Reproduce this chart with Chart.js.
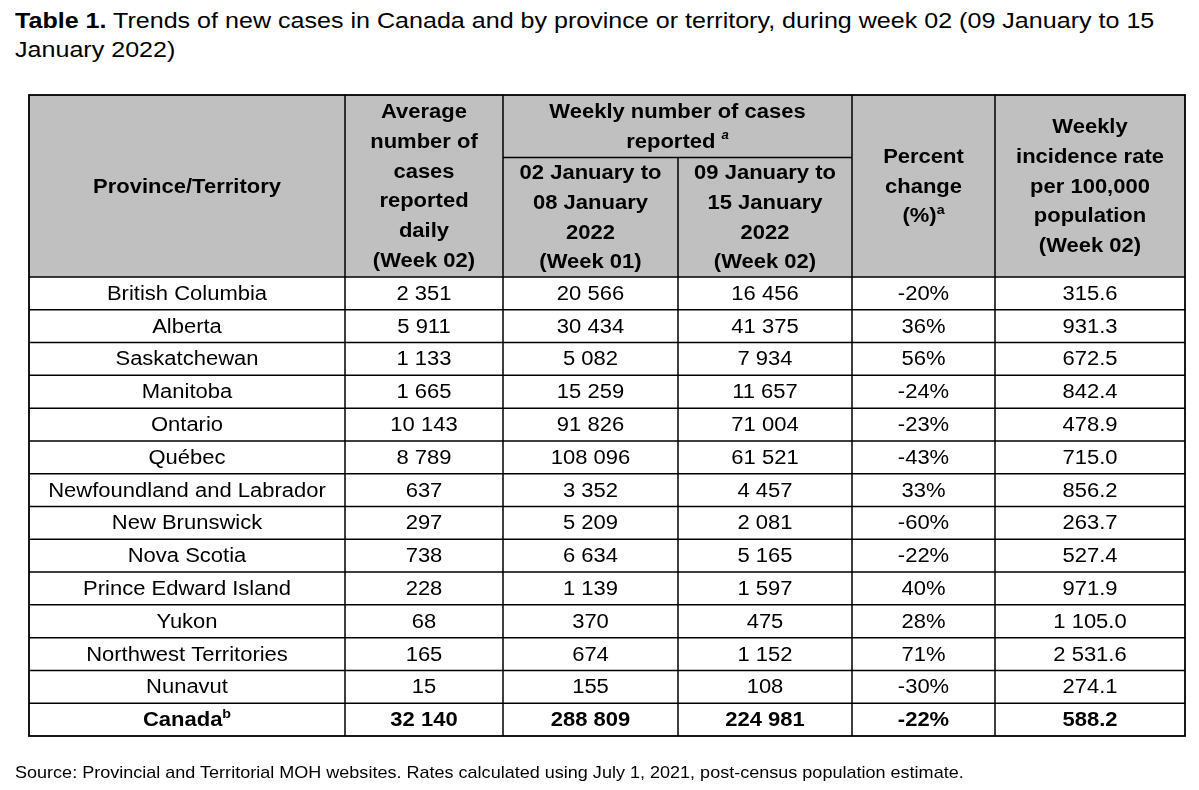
<!DOCTYPE html>
<html>
<head>
<meta charset="utf-8">
<script src="https://cdn.jsdelivr.net/npm/chart.js@4.4.1/dist/chart.umd.min.js"></script>
<style>
  body { margin: 0; background: #fff; width: 1199px; height: 790px; position: relative; overflow: hidden;
         font-family: "Liberation Sans", Arial, Helvetica, sans-serif; color: #000; }
  #title { position: absolute; left: 15px; top: 6px; font-size: 22.8px; line-height: 29px;
           transform: scaleX(1.1); transform-origin: 0 0; white-space: nowrap; }
  #source { position: absolute; left: 15px; top: 762px; font-size: 16.4px; line-height: 20px;
            transform: scaleX(1.1); transform-origin: 0 0; white-space: nowrap; }
  #tableChart { position: absolute; left: 0; top: 0; }
</style>
</head>
<body>
<div id="title"><b>Table 1.</b> Trends of new cases in Canada and by province or territory, during week 02 (09 January to 15<br>January 2022)</div>
<canvas id="tableChart" width="1199" height="790"></canvas>
<div id="source">Source: Provincial and Territorial MOH websites. Rates calculated using July 1, 2021, post-census population estimate.</div>

<script>
// ----------------------
// DATA
// ----------------------
const provinces = [
  "British Columbia", "Alberta", "Saskatchewan", "Manitoba", "Ontario", "Québec",
  "Newfoundland and Labrador", "New Brunswick", "Nova Scotia", "Prince Edward Island",
  "Yukon", "Northwest Territories", "Nunavut", "Canada"
];
const avgDaily = [2351, 5911, 1133, 1665, 10143, 8789, 637, 297, 738, 228, 68, 165, 15, 32140];
const casesWeek01 = [20566, 30434, 5082, 15259, 91826, 108096, 3352, 5209, 6634, 1139, 370, 674, 155, 288809];
const casesWeek02 = [16456, 41375, 7934, 11657, 71004, 61521, 4457, 2081, 5165, 1597, 475, 1152, 108, 224981];
const pctChange = [-20, 36, 56, -24, -23, -43, 33, -60, -22, 40, 28, 71, -30, -22];
const incidenceRate = [315.6, 931.3, 672.5, 842.4, 478.9, 715.0, 856.2, 263.7, 527.4, 971.9, 1105.0, 2531.6, 274.1, 588.2];

// header text, one array of lines per column
const headerCols = [
  ["Province/Territory"],
  ["Average", "number of", "cases", "reported", "daily", "(Week 02)"],
  ["02 January to", "08 January", "2022", "(Week 01)"],
  ["09 January to", "15 January", "2022", "(Week 02)"],
  ["Percent", "change", "(%)"],
  ["Weekly", "incidence rate", "per 100,000", "population", "(Week 02)"]
];
const groupHeader = ["Weekly number of cases", "reported"];

// ----------------------
// LAYOUT
// ----------------------
const colEdges = [0, 316, 474, 649, 823, 966, 1156]; // x-scale units, from left border
const headerTop = 95;
const subHeaderLine = 157.5;
const lineH = 29.7;
const SX = 1.1;
const FONT = '"Liberation Sans", Arial, sans-serif';
const headerBg = "#c0c0c0";

// ----------------------
// UTILITIES
// ----------------------
function groupThousands(str) {
  const [i, d] = str.split(".");
  const g = i.replace(/\B(?=(\d{3})+(?!\d))/g, " ");
  return d !== undefined ? g + "." + d : g;
}

// parts: [{s, font, dy}] drawn as one centred run
function drawRun(ctx, parts, cx, y) {
  let total = 0;
  parts.forEach(p => { ctx.font = p.font; p.w = ctx.measureText(p.s).width; total += p.w; });
  let x = cx - (total * SX) / 2;
  ctx.textAlign = "left";
  ctx.textBaseline = "middle";
  parts.forEach(p => {
    ctx.save();
    ctx.font = p.font;
    ctx.translate(x, y + (p.dy || 0));
    ctx.scale(SX, 1);
    ctx.fillText(p.s, 0, 0);
    ctx.restore();
    x += p.w * SX;
  });
}

function drawText(ctx, s, cx, y, font) {
  drawRun(ctx, [{ s, font }], cx, y);
}

// ----------------------
// TABLE PLUGIN
// ----------------------
const tablePlugin = {
  id: "tableCells",
  afterDraw(chart) {
    const ctx = chart.ctx;
    const x = chart.scales.x;
    const y = chart.scales.y;
    const area = chart.chartArea;
    const px = colEdges.map(v => x.getPixelForValue(v));
    const colMid = i => (px[i] + px[i + 1]) / 2;
    const n = provinces.length;

    const bold = "bold 20px " + FONT;
    const reg = "20px " + FONT;
    const supB = "bold 13px " + FONT;
    const supI = "italic bold 12px " + FONT;

    ctx.save();
    // header background
    ctx.fillStyle = headerBg;
    ctx.fillRect(px[0], headerTop, px[6] - px[0], area.top - headerTop);

    ctx.fillStyle = "#000";
    // header texts
    headerCols.forEach((lines, c) => {
      const top = (c === 2 || c === 3) ? subHeaderLine : headerTop;
      const mid = (top + area.top) / 2 + 1;
      lines.forEach((ln, k) => {
        const yy = mid + (k - (lines.length - 1) / 2) * lineH;
        if (c === 4 && k === 2) {
          drawRun(ctx, [{ s: ln, font: bold }, { s: "a", font: supB, dy: -6 }], colMid(c), yy);
        } else {
          drawText(ctx, ln, colMid(c), yy, bold);
        }
      });
    });
    const gMid = (px[2] + px[4]) / 2;
    const gCenter = (headerTop + subHeaderLine) / 2 + 1;
    drawText(ctx, groupHeader[0], gMid, gCenter - lineH / 2, bold);
    drawRun(ctx, [{ s: groupHeader[1] + " ", font: bold }, { s: "a", font: supI, dy: -6 }], gMid, gCenter + lineH / 2);

    // body cells
    for (let i = 0; i < n; i++) {
      const cy = y.getPixelForValue(i) + 1;
      const last = i === n - 1;
      const f = last ? bold : reg;
      const cells = [
        groupThousands(String(avgDaily[i])),
        groupThousands(String(casesWeek01[i])),
        groupThousands(String(casesWeek02[i])),
        pctChange[i] + "%",
        groupThousands(incidenceRate[i].toFixed(1))
      ];
      if (last) {
        drawRun(ctx, [{ s: provinces[i], font: bold }, { s: "b", font: supB, dy: -6 }], colMid(0), cy);
      } else {
        drawText(ctx, provinces[i], colMid(0), cy, f);
      }
      cells.forEach((s, c) => drawText(ctx, s, colMid(c + 1), cy, f));
    }

    // grid lines
    ctx.strokeStyle = "#000";
    ctx.lineWidth = 1.5;
    ctx.beginPath();
    for (let i = 1; i < n; i++) {
      const yy = (y.getPixelForValue(i - 1) + y.getPixelForValue(i)) / 2;
      ctx.moveTo(px[0], yy); ctx.lineTo(px[6], yy);
    }
    ctx.moveTo(px[0], area.top); ctx.lineTo(px[6], area.top);
    ctx.moveTo(px[2], subHeaderLine); ctx.lineTo(px[4], subHeaderLine);
    for (let c = 1; c < 6; c++) {
      const t = c === 3 ? subHeaderLine : headerTop;
      ctx.moveTo(px[c], t); ctx.lineTo(px[c], area.bottom);
    }
    ctx.stroke();
    ctx.lineWidth = 1.8;
    ctx.strokeRect(px[0], headerTop, px[6] - px[0], area.bottom - headerTop);
    ctx.restore();
  }
};

// ----------------------
// CHART
// ----------------------
const tableCtx = document.getElementById("tableChart").getContext("2d");
const tableChart = new Chart(tableCtx, {
  type: "bar",
  data: {
    labels: provinces,
    datasets: []
  },
  options: {
    indexAxis: "y",
    responsive: false,
    animation: false,
    layout: { padding: { left: 29, right: 14, top: 277, bottom: 54 } },
    plugins: {
      legend: { display: false },
      tooltip: { enabled: false }
    },
    scales: {
      x: { type: "linear", min: 0, max: colEdges[colEdges.length - 1], display: false },
      y: { type: "category", offset: true, display: false }
    }
  },
  plugins: [tablePlugin]
});
</script>
</body>
</html>
